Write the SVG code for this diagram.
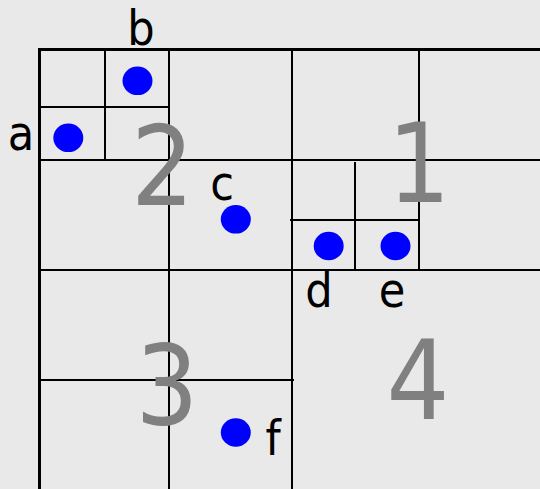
<svg xmlns="http://www.w3.org/2000/svg" width="540" height="489" viewBox="0 0 540 489">
<style>
.ln{stroke:#000;stroke-width:2;fill:none}
.bd{stroke:#000;stroke-width:3;fill:none}
.pt{fill:#0000ff}
.lb{font-family:"DejaVu Sans Condensed","DejaVu Sans",sans-serif;font-stretch:condensed;font-size:48px;fill:#000;text-anchor:middle}
.qn{font-family:"DejaVu Sans Condensed","DejaVu Sans",sans-serif;font-stretch:condensed;font-size:110px;fill:#808080;text-anchor:middle}
</style>
<rect width="540" height="489" fill="#e9e9e9"/>
<g id="connectors">
<path class="bd" d="M39.5,489V49.5H540"/>
<path class="ln" d="M105,49.5V160M169,49.5V489M292,49.5V489M419,49.5V270M355,162V271"/>
<path class="ln" d="M39.5,107H169M39.5,160H540M39.5,270H540M290,220H419M39.5,380H294"/>
</g>
<g id="q1"><text class="qn" x="419" y="202">1</text></g>
<g id="q2"><text class="qn" x="162.5" y="205">2</text></g>
<g id="q3"><text class="qn" x="167" y="424">3</text></g>
<g id="q4"><text class="qn" x="418" y="419">4</text></g>
<g id="a"><ellipse class="pt" cx="68.3" cy="137.8" rx="15" ry="14.3"/><text class="lb" x="21" y="150">a</text></g>
<g id="b"><ellipse class="pt" cx="137.5" cy="80.8" rx="15" ry="14.3"/><text class="lb" x="141" y="45">b</text></g>
<g id="c"><ellipse class="pt" cx="235.8" cy="219.3" rx="15" ry="14.3"/><text class="lb" x="222" y="200">c</text></g>
<g id="d"><ellipse class="pt" cx="328.7" cy="246" rx="15" ry="14.3"/><text class="lb" x="319" y="307">d</text></g>
<g id="e"><ellipse class="pt" cx="395.5" cy="246" rx="15" ry="14.3"/><text class="lb" x="392" y="307">e</text></g>
<g id="f"><ellipse class="pt" cx="235.8" cy="432.5" rx="15" ry="14.3"/><text class="lb" x="273" y="455">f</text></g>
</svg>
